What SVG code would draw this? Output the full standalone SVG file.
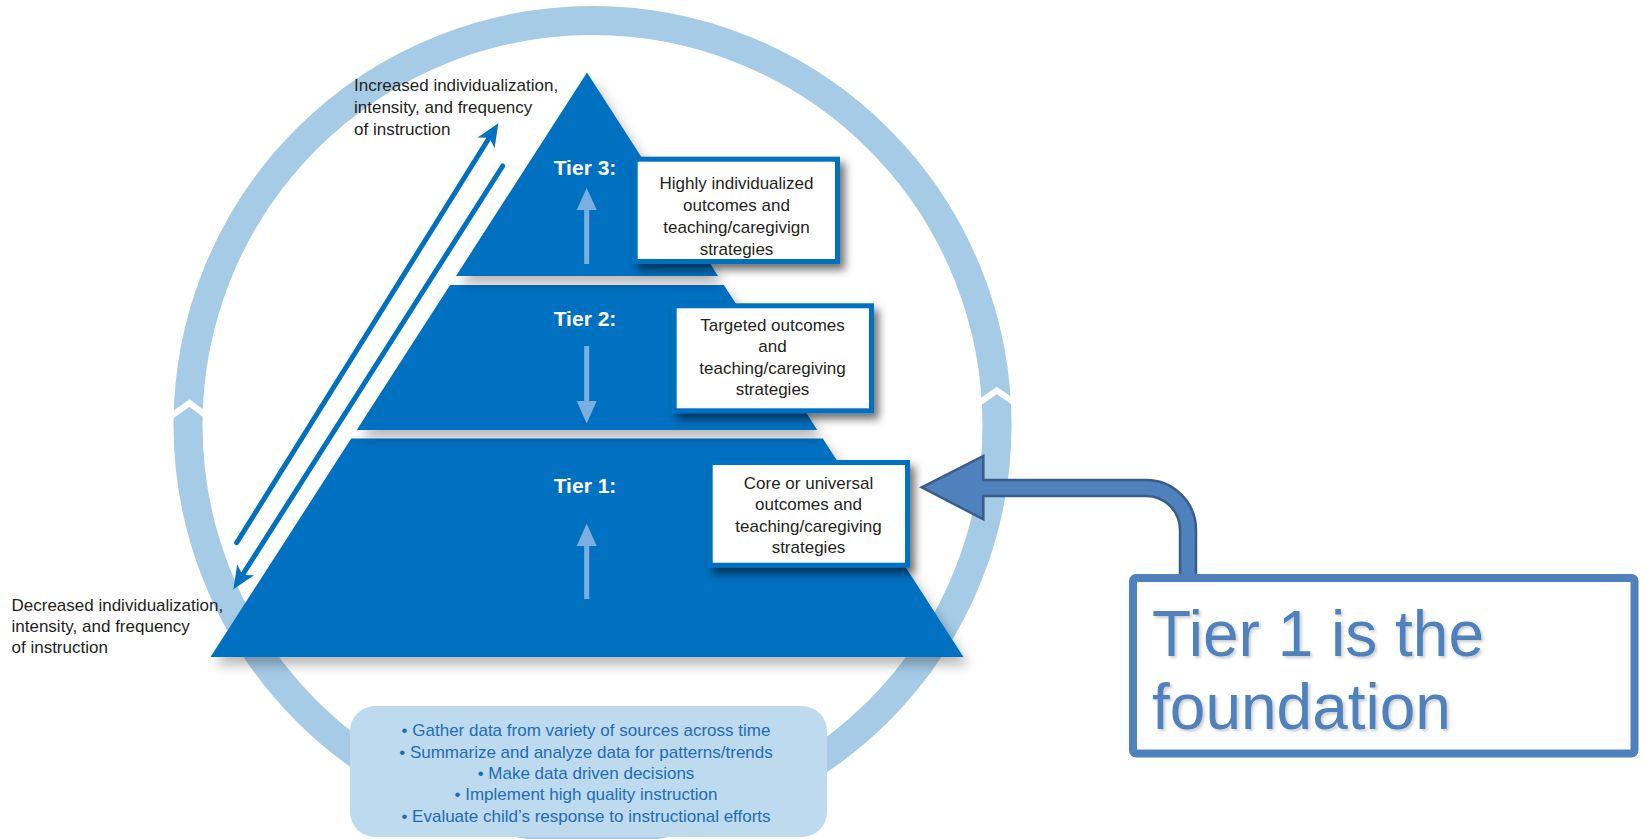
<svg xmlns="http://www.w3.org/2000/svg" width="1643" height="839" viewBox="0 0 1643 839">
<style>
.tier{fill:#0070c0;filter:url(#pshadow)}
.tlabel{font-family:"Liberation Sans",Arial,sans-serif;font-weight:bold;font-size:21px;fill:#ffffff;text-anchor:middle}
.box{fill:#ffffff;stroke:#0070c0;stroke-width:5;filter:url(#bshadow)}
.btext{font-family:"Liberation Sans",Arial,sans-serif;font-size:17px;fill:#231f20;text-anchor:middle}
.side{font-family:"Liberation Sans",Arial,sans-serif;font-size:17px;fill:#231f20}
.cyc{font-family:"Liberation Sans",Arial,sans-serif;font-size:17px;fill:#1d6db5;text-anchor:middle}
.tarrow{fill:#7aafdf}
.diag{stroke:#0070c0;stroke-width:5;fill:none;stroke-linecap:round}
.callout{font-family:"Liberation Sans",Arial,sans-serif;font-size:64px;fill:#4f81bd;filter:url(#tshadow)}
</style>
<defs>
<filter id="pshadow" x="-20%" y="-20%" width="140%" height="150%">
<feDropShadow dx="5" dy="8" stdDeviation="6" flood-color="#000" flood-opacity="0.28"/>
</filter>
<filter id="bshadow" x="-20%" y="-20%" width="150%" height="150%">
<feDropShadow dx="5" dy="6" stdDeviation="4" flood-color="#000" flood-opacity="0.55"/>
</filter>
<filter id="tshadow" x="-10%" y="-10%" width="120%" height="130%">
<feDropShadow dx="2" dy="2" stdDeviation="1.5" flood-color="#000" flood-opacity="0.2"/>
</filter>
<marker id="dh" viewBox="-14 -11 26 22" markerWidth="26" markerHeight="22" refX="0" refY="0" orient="auto" markerUnits="userSpaceOnUse">
<path d="M10,0 L-13,-10 L-7,0 L-13,10 Z" fill="#0070c0"/>
</marker>
</defs>
<rect x="0" y="0" width="1643" height="839" fill="#ffffff"/>

<g id="cycle-ring">
<circle cx="592.5" cy="425" r="404.5" fill="none" stroke="#a6cbe6" stroke-width="29"/>
<polyline points="170,417 189.5,403 208,417" fill="none" stroke="#ffffff" stroke-width="6" stroke-linejoin="miter"/>
<polyline points="979,403 996.7,390.5 1015,403" fill="none" stroke="#ffffff" stroke-width="6" stroke-linejoin="miter"/>
</g>

<g id="data-box">
<rect x="350" y="706" width="477" height="131" rx="25" fill="#bedaee"/>
<text class="cyc" x="586" y="736">• Gather data from variety of sources across time</text>
<text class="cyc" x="586" y="757.5">• Summarize and analyze data for patterns/trends</text>
<text class="cyc" x="586" y="779">• Make data driven decisions</text>
<text class="cyc" x="586" y="800">• Implement high quality instruction</text>
<text class="cyc" x="586" y="821.5">• Evaluate child’s response to instructional efforts</text>
</g>

<g id="tier1">
<polygon class="tier" points="351.2,438.5 822.8,438.5 963.5,657 210.5,657"/>
<text class="tlabel" x="585" y="493">Tier 1:</text>
<rect x="584.2" y="544" width="5" height="55" fill="#7aafdf"/>
<polygon class="tarrow" points="576.7,546 596.7,546 586.7,523.5"/>
</g>

<g id="tier2">
<polygon class="tier" points="450.1,285 723.9,285 817.3,430 356.7,430"/>
<text class="tlabel" x="585" y="326">Tier 2:</text>
<rect x="584.2" y="346" width="5" height="57" fill="#7aafdf"/>
<polygon class="tarrow" points="576.7,401 596.7,401 586.7,423.5"/>
</g>

<g id="tier3">
<polygon class="tier" points="587,72.5 718,276 456,276"/>
<text class="tlabel" x="585" y="175">Tier 3:</text>
<rect x="584.2" y="208" width="5" height="56" fill="#7aafdf"/>
<polygon class="tarrow" points="576.7,210 596.7,210 586.7,188"/>
</g>

<g id="box-tier3">
<rect class="box" x="635.2" y="159.2" width="202.3" height="102.3"/>
<text class="btext" x="736.5" y="189">Highly individualized</text>
<text class="btext" x="736.5" y="211">outcomes and</text>
<text class="btext" x="736.5" y="233">teaching/caregivign</text>
<text class="btext" x="736.5" y="255">strategies</text>
</g>

<g id="box-tier2">
<rect class="box" x="674.2" y="305.8" width="197.3" height="105"/>
<text class="btext" x="772.5" y="330.5">Targeted outcomes</text>
<text class="btext" x="772.5" y="352">and</text>
<text class="btext" x="772.5" y="373.5">teaching/caregiving</text>
<text class="btext" x="772.5" y="395">strategies</text>
</g>

<g id="box-tier1">
<rect class="box" x="710.2" y="462.5" width="197.3" height="102.7"/>
<text class="btext" x="808.5" y="488.5">Core or universal</text>
<text class="btext" x="808.5" y="510">outcomes and</text>
<text class="btext" x="808.5" y="531.5">teaching/caregiving</text>
<text class="btext" x="808.5" y="553">strategies</text>
</g>

<g id="label-increased">
<text class="side" x="354" y="91">Increased individualization,</text>
<text class="side" x="354" y="113">intensity, and frequency</text>
<text class="side" x="354" y="135">of instruction</text>
</g>

<g id="label-decreased">
<text class="side" x="11.5" y="611">Decreased individualization,</text>
<text class="side" x="11.5" y="632">intensity, and frequency</text>
<text class="side" x="11.5" y="653">of instruction</text>
</g>

<g id="connectors">
<line class="diag" x1="236.7" y1="542.7" x2="493" y2="131.8" marker-end="url(#dh)"/>
<line class="diag" x1="502.7" y1="166" x2="238.7" y2="580.9" marker-end="url(#dh)"/>
<path d="M921.7,487.3 L983.3,456 L983.3,480 L1146,480 A50,50 0 0 1 1196,530 L1196,580 L1180,580 L1180,530 A34,34 0 0 0 1146,496 L983.3,496 L983.3,519.3 Z" fill="#4f81bd" stroke="#385d8a" stroke-width="2.5" stroke-linejoin="miter"/>
</g>

<g id="callout">
<rect x="1133" y="578" width="501.5" height="175.5" rx="3" fill="#ffffff" stroke="#4f81bd" stroke-width="8"/>
<text class="callout" x="1152" y="656">Tier 1 is the</text>
<text class="callout" x="1152" y="729">foundation</text>
</g>
</svg>
